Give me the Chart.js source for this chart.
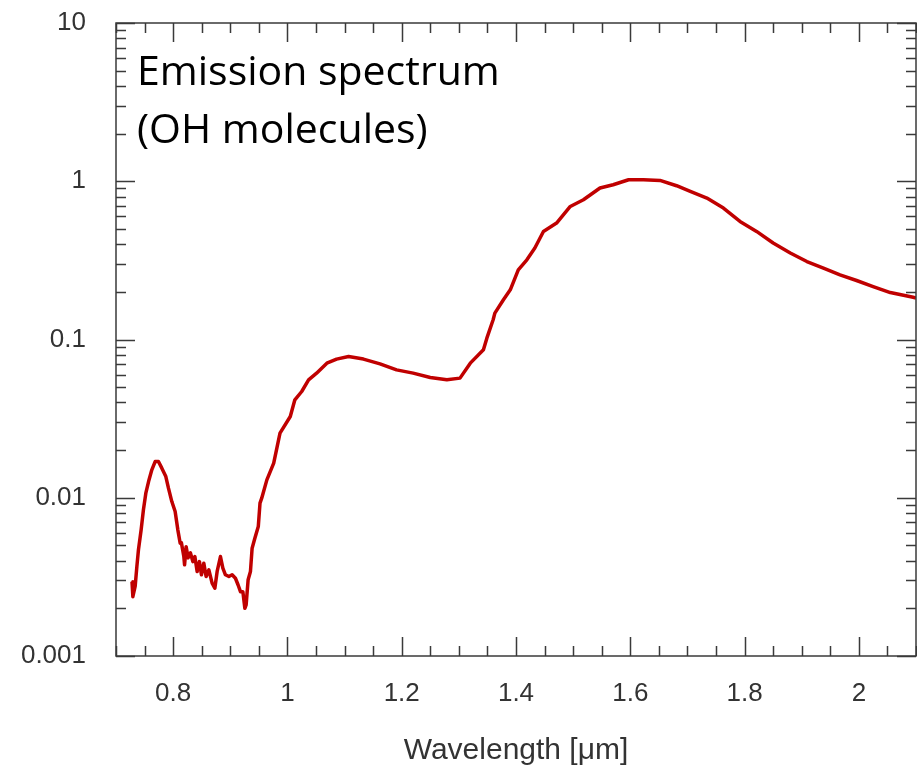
<!DOCTYPE html>
<html>
<head>
<meta charset="utf-8">
<script src="https://cdn.jsdelivr.net/npm/chart.js@4.4.1/dist/chart.umd.min.js"></script>
<style>
  body { margin: 0; background: #fff; }
  #wrap { width: 917px; height: 766px; }
</style>
</head>
<body>
<div id="wrap"><canvas id="spectrum"></canvas></div>
<script>
// DATA
const wavelength = [
  0.728, 0.7295, 0.7335, 0.7365, 0.7393, 0.744, 0.748, 0.7522, 0.757, 0.7627,
  0.7685, 0.7743, 0.7802, 0.7872, 0.7918, 0.7977, 0.8035, 0.8082, 0.8123, 0.8145,
  0.8187, 0.820, 0.8227, 0.8262, 0.8303, 0.8345, 0.838, 0.842, 0.846, 0.8495,
  0.8537, 0.8577, 0.8625, 0.8682, 0.873, 0.877, 0.8828, 0.887, 0.8915, 0.8975,
  0.9032, 0.909, 0.9137, 0.9178, 0.922, 0.9255, 0.9277, 0.9312, 0.9353, 0.9382,
  0.943, 0.949, 0.952, 0.955, 0.964, 0.976, 0.987, 1.005, 1.013, 1.025,
  1.037, 1.051, 1.069, 1.086, 1.107, 1.133, 1.162, 1.191, 1.220, 1.250,
  1.279, 1.302, 1.320, 1.343, 1.349, 1.360, 1.363, 1.378, 1.390, 1.404,
  1.419, 1.433, 1.448, 1.471, 1.495, 1.518, 1.547, 1.570, 1.597, 1.623,
  1.652, 1.681, 1.705, 1.734, 1.763, 1.792, 1.821, 1.850, 1.880, 1.909,
  1.938, 1.967, 1.996, 2.025, 2.055, 2.095, 2.100
];
const intensity = [
  0.00295, 0.00237, 0.00275, 0.00367, 0.00469, 0.00627, 0.00839, 0.01069, 0.01266, 0.01501,
  0.01694, 0.01694, 0.01538, 0.01361, 0.0115, 0.00946, 0.00818, 0.00627, 0.00516, 0.00519,
  0.00425, 0.00377, 0.00491, 0.00417, 0.00448, 0.00395, 0.00425, 0.00342, 0.00395, 0.00326,
  0.00386, 0.00318, 0.0035, 0.00289, 0.00268, 0.00342, 0.00425, 0.00359, 0.00326, 0.00318,
  0.00326, 0.0031, 0.00281, 0.00255, 0.00255, 0.002, 0.0021, 0.00303, 0.00342, 0.0048,
  0.00555, 0.00657, 0.00924, 0.00994, 0.01297, 0.01655, 0.02561, 0.03262, 0.04158, 0.04692,
  0.0556, 0.0613, 0.0709, 0.0752, 0.0781, 0.0752, 0.0702, 0.0643, 0.0613, 0.0575,
  0.0556, 0.057, 0.0709, 0.0861, 0.102, 0.1332, 0.1468, 0.1782, 0.2061, 0.2758,
  0.319, 0.3783, 0.4817, 0.5442, 0.693, 0.764, 0.906, 0.95, 1.022, 1.022,
  1.012, 0.937, 0.862, 0.783, 0.677, 0.557, 0.482, 0.407, 0.352, 0.311,
  0.283, 0.256, 0.236, 0.216, 0.198, 0.185, 0.183
];

// AXES
const xMin = 0.7, xMax = 2.1;
const xLabelTicks = [0.8, 1, 1.2, 1.4, 1.6, 1.8, 2];
const xMinorStep = 0.05;
const yLabelTicks = [0.001, 0.01, 0.1, 1, 10];
const yMinorMultiples = [2, 3, 4, 5, 6, 7, 8, 9];

const xTitle = "Wavelength [\u03bcm]";
const noteLines = ["Emission spectrum", "(OH molecules)"];

const lineColor = "#c00000";
const axisColor = "#3a3a3a";
const tickFont = { family: "'Liberation Sans', Arial, sans-serif", size: 26 };

// INWARD TICKS + FRAME + NOTE
const frameTicks = {
  id: "frameTicks",
  afterDraw(chart) {
    const { ctx, chartArea: a, scales } = chart;
    const x = scales.x, y = scales.y;
    const majorLen = 19, minorLen = 10;
    ctx.save();
    ctx.strokeStyle = axisColor;
    ctx.lineWidth = 1.5;
    ctx.beginPath();

    // x ticks, top and bottom
    for (let k = 0; xMin + k * xMinorStep <= xMax + 1e-9; k++) {
      const v = xMin + k * xMinorStep;
      const isMajor = xLabelTicks.some((t) => Math.abs(t - v) < 1e-6);
      const len = isMajor ? majorLen : minorLen;
      const px = Math.round(x.getPixelForValue(v)) + 0.5;
      ctx.moveTo(px, a.bottom);
      ctx.lineTo(px, a.bottom - len);
      ctx.moveTo(px, a.top);
      ctx.lineTo(px, a.top + len);
    }

    // y ticks, left and right
    yLabelTicks.forEach((dec, i) => {
      const py = Math.round(y.getPixelForValue(dec)) + 0.5;
      ctx.moveTo(a.left, py);
      ctx.lineTo(a.left + majorLen, py);
      ctx.moveTo(a.right, py);
      ctx.lineTo(a.right - majorLen, py);
      if (i == yLabelTicks.length - 1) return;
      yMinorMultiples.forEach((m) => {
        const pm = Math.round(y.getPixelForValue(dec * m)) + 0.5;
        ctx.moveTo(a.left, pm);
        ctx.lineTo(a.left + minorLen, pm);
        ctx.moveTo(a.right, pm);
        ctx.lineTo(a.right - minorLen, pm);
      });
    });
    ctx.stroke();

    // frame
    ctx.strokeRect(a.left, a.top, a.right - a.left, a.bottom - a.top);

    // note text
    ctx.fillStyle = "#000";
    ctx.font = "41px 'Open Sans', sans-serif";
    ctx.textBaseline = "alphabetic";
    ctx.textAlign = "left";
    noteLines.forEach((line, i) => {
      ctx.fillText(line, a.left + 21, a.top + 62 + i * 58);
    });
    ctx.restore();
  },
};

const ctx = document.getElementById("spectrum").getContext("2d");

new Chart(ctx, {
  type: "line",
  data: {
    datasets: [
      {
        data: wavelength.map((w, i) => ({ x: w, y: intensity[i] })),
        borderColor: lineColor,
        borderWidth: 3.5,
        pointRadius: 0,
        tension: 0,
        borderJoinStyle: "round",
        fill: false,
      },
    ],
  },
  options: {
    responsive: true,
    maintainAspectRatio: false,
    animation: false,
    layout: { padding: { top: 23, right: 1, left: 0, bottom: 0 } },
    plugins: {
      legend: { display: false },
      tooltip: { enabled: false },
    },
    scales: {
      x: {
        type: "linear",
        min: xMin,
        max: xMax,
        grid: { display: false, drawTicks: false },
        border: { display: false },
        afterBuildTicks: (axis) => {
          axis.ticks = xLabelTicks.map((v) => ({ value: v }));
        },
        afterFit: (axis) => {
          axis.height = 110;
          axis.paddingLeft = 0;
          axis.paddingRight = 0;
        },
        ticks: {
          autoSkip: false,
          maxRotation: 0,
          padding: 22,
          color: "#333",
          font: tickFont,
          callback: (v) => String(Math.round(v * 10) / 10),
        },
        title: {
          display: true,
          text: xTitle,
          color: "#333",
          font: { family: "'Liberation Sans', Arial, sans-serif", size: 30, lineHeight: 1 },
          padding: { top: 0, bottom: 0 },
        },
      },
      y: {
        type: "logarithmic",
        min: 0.001,
        max: 10,
        grid: { display: false, drawTicks: false },
        border: { display: false },
        afterBuildTicks: (axis) => {
          axis.ticks = yLabelTicks.map((v) => ({ value: v }));
        },
        afterFit: (axis) => {
          axis.width = 116;
          axis.paddingTop = 0;
          axis.paddingBottom = 0;
        },
        ticks: {
          autoSkip: false,
          padding: 30,
          color: "#333",
          font: tickFont,
          callback: (v) => String(v),
        },
      },
    },
  },
  plugins: [frameTicks],
});
</script>
</body>
</html>
